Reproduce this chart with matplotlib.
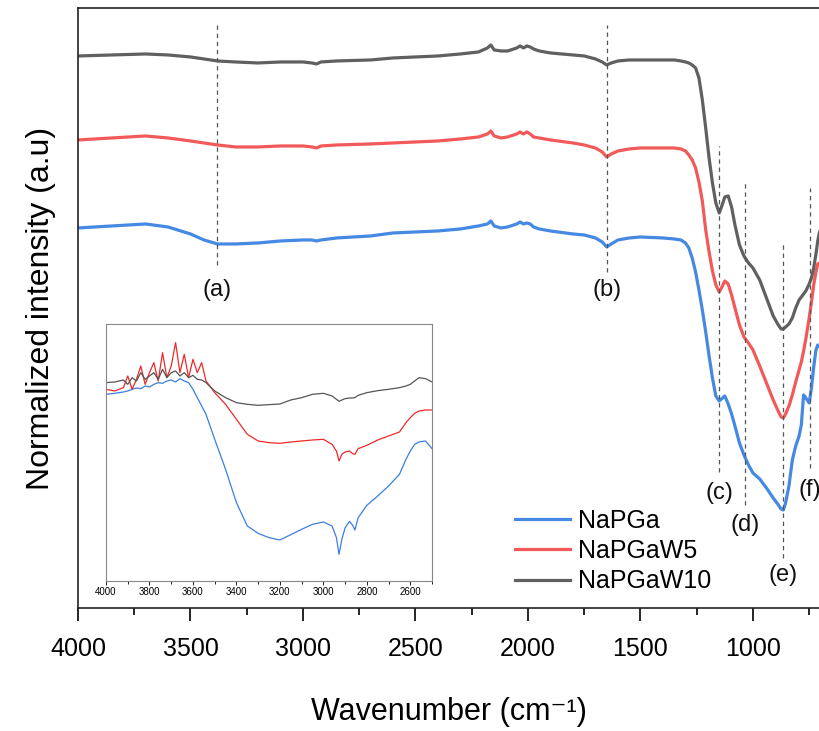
import numpy as np
import matplotlib.pyplot as plt
from matplotlib.ticker import MultipleLocator

plt.rcParams['font.family'] = ['Liberation Sans', 'DejaVu Sans']

# FTIR spectra, stacked (a.u.)
wn = [4000, 3850, 3700, 3600, 3500, 3440, 3380, 3300, 3200, 3100, 3000, 2960, 2940, 2920, 2850,
      2700, 2600, 2500, 2400, 2300, 2220, 2180, 2165, 2150, 2120, 2090, 2050, 2035, 2020, 2005,
      1990, 1975, 1950, 1900, 1800, 1750, 1700, 1670, 1650, 1630, 1600, 1550, 1500, 1400, 1350,
      1320, 1300, 1285, 1270, 1255, 1240, 1225, 1210, 1195, 1180, 1165, 1150, 1140, 1125, 1110,
      1095, 1080, 1060, 1040, 1020, 1000, 970, 940, 910, 890, 875, 865, 855, 840, 825,
      810, 795, 785, 775, 765, 750, 740, 730, 720, 712, 705, 700]

napga = [380, 382, 384, 381, 374, 368, 364, 364, 365, 367, 368, 368, 367, 368, 370,
         372, 375, 376, 377, 379, 382, 384, 387, 382, 380, 381, 384, 386, 384, 385,
         384, 381, 379, 377, 374, 373, 370, 366, 361, 364, 368, 370, 371, 370, 369,
         368, 365, 360, 350, 336, 318, 298, 276, 252, 230, 212, 207, 209, 212, 204,
         194, 182, 165, 153, 143, 135, 129, 120, 110, 104, 99, 98, 105, 122, 148,
         162, 172, 183, 213, 210, 205, 220, 241, 258, 263, 262, 260]

napgaw5 = [468, 470, 472, 470, 467, 465, 463, 461, 461, 462, 462, 461, 460, 462, 463,
           464, 465, 466, 467, 469, 471, 474, 477, 472, 470, 471, 474, 476, 474, 476,
           474, 471, 470, 468, 465, 463, 460, 456, 451, 454, 457, 459, 460, 460, 460,
           459, 457, 453, 448, 440, 426, 407, 378, 356, 337, 323, 316, 320, 327, 324,
           313, 300, 283, 271, 265, 258, 242, 225, 208, 198, 191, 190, 194, 202, 213,
           226, 238, 246, 257, 269, 290, 306, 323, 336, 344, 345, 343]

napgaw10 = [552, 553, 554, 553, 551, 549, 547, 546, 545, 546, 546, 545, 544, 546, 547,
            548, 550, 551, 552, 554, 556, 560, 563, 558, 557, 557, 560, 562, 560, 562,
            561, 559, 557, 555, 553, 552, 549, 546, 543, 545, 547, 548, 548, 548, 548,
            547, 546, 545, 543, 540, 530, 508, 480, 450, 425, 405, 395, 401, 411, 412,
            401, 383, 363, 352, 345, 340, 328, 310, 292, 284, 279, 279, 281, 284, 290,
            300, 308, 311, 314, 317, 324, 330, 340, 354, 367, 375, 378]

# zoom on the OH / CH stretching region
wn_in = [4000, 3960, 3920, 3900, 3880, 3860, 3840, 3820, 3800, 3780, 3760, 3740, 3720, 3700,
         3680, 3660, 3640, 3620, 3600, 3580, 3560, 3540, 3500, 3450, 3400, 3350, 3300, 3250,
         3200, 3150, 3100, 3050, 3000, 2960, 2940, 2928, 2915, 2900, 2880, 2865, 2855, 2840,
         2800, 2750, 2700, 2650, 2620, 2600, 2580, 2560, 2530, 2500]

napga_in = [565, 568, 572, 575, 580, 584, 582, 590, 587, 595, 600, 598, 605, 608,
            602, 612, 605, 600, 580, 555, 530, 505, 430, 340, 240, 170, 148, 135,
            128, 144, 160, 175, 182, 170, 135, 85, 130, 165, 184, 172, 158, 195,
            232, 260, 290, 325, 370, 395, 415, 422, 425, 402]

napgaw5_in = [580, 575, 585, 620, 580, 610, 650, 595, 630, 660, 605, 690, 615, 650,
              720, 630, 685, 615, 670, 630, 660, 605, 570, 535, 490, 445, 425, 420,
              418, 422, 425, 428, 430, 415, 395, 365, 385, 392, 395, 387, 385, 402,
              412, 428, 440, 452, 480, 495, 508, 515, 518, 518]

napgaw10_in = [600, 602, 608, 595, 615, 605, 630, 610, 620, 630, 610, 640, 615, 630,
               635, 620, 630, 615, 622, 610, 608, 600, 575, 555, 540, 535, 532, 534,
               536, 548, 555, 565, 568, 560, 550, 544, 548, 552, 554, 554, 555, 562,
               570, 576, 580, 585, 590, 595, 605, 615, 612, 602]

# band assignments
peak_pos = [3380, 1650, 1150, 1035, 868, 747]
peak_tag = ['(a)', '(b)', '(c)', '(d)', '(e)', '(f)']
guide_top = [583, 583, 462, 428, 365, 420]
guide_bot = [343, 336, 136, 103, 50, 140]
tag_y = [318, 318, 115, 83, 33, 118]

c_blue = '#4589e3'
c_red = '#f25a5a'
c_gray = '#606060'

fig = plt.figure(figsize=(8.2, 7.31), dpi=100)
ax = fig.add_axes([0.0951, 0.1683, 0.9049, 0.8208])

ax.plot(wn, napga, color=c_blue, lw=2.3, label='NaPGa')
ax.plot(wn, napgaw5, color=c_red, lw=2.3, label='NaPGaW5')
ax.plot(wn, napgaw10, color=c_gray, lw=2.3, label='NaPGaW10')

for p, t, y0, y1, ty in zip(peak_pos, peak_tag, guide_bot, guide_top, tag_y):
    ax.plot([p, p], [y0, y1], color='#555555', lw=0.9, ls=(0, (3.5, 3)))
    ax.text(p, ty, t, ha='center', va='center', fontsize=17, color='#111111')

ax.set_xlim(4000, 702)
ax.set_ylim(0, 600)
ax.xaxis.set_major_locator(MultipleLocator(500))
ax.xaxis.set_minor_locator(MultipleLocator(250))
ax.tick_params(axis='x', which='major', direction='out', length=9, width=1.2, labelsize=18, pad=12)
ax.tick_params(axis='x', which='minor', direction='out', length=5, width=1.2)
ax.set_yticks([])
ax.spines['right'].set_visible(False)
for s in ['left', 'top', 'bottom']:
    ax.spines[s].set_linewidth(1.2)
    ax.spines[s].set_color('#222222')
ax.set_xlabel('Wavenumber (cm\u207b\u00b9)', fontsize=22, labelpad=26)
ax.set_ylabel('Normalized intensity (a.u)', fontsize=23, labelpad=16)

ax.legend(loc='upper left', bbox_to_anchor=(0.589, 0.165), frameon=False, fontsize=18,
          handlelength=2.2, handletextpad=0.3, labelspacing=0.25, borderpad=0, borderaxespad=0)

ins = fig.add_axes([0.1293, 0.2052, 0.3976, 0.3516])
ins.plot(wn_in, napga_in, color='#3a7fe0', lw=0.9)
ins.plot(wn_in, napgaw5_in, color='#ee2a2a', lw=0.9)
ins.plot(wn_in, napgaw10_in, color='#555555', lw=0.9)
ins.set_xlim(4000, 2500)
ins.set_ylim(5, 776)
ins.xaxis.set_major_locator(MultipleLocator(200))
ins.xaxis.set_minor_locator(MultipleLocator(100))
ins.tick_params(axis='x', which='major', direction='out', length=3, width=0.6, labelsize=7, pad=1.5)
ins.tick_params(axis='x', which='minor', direction='out', length=2, width=0.6)
ins.set_yticks([])
for s in ins.spines.values():
    s.set_linewidth(0.8)
    s.set_color('#888888')

fig.savefig('out.png', dpi=100)
